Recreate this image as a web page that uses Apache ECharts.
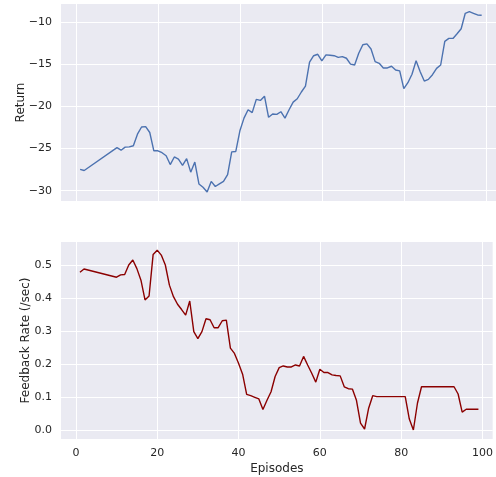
<!DOCTYPE html>
<html>
<head>
<meta charset="utf-8">
<script src="https://cdn.jsdelivr.net/npm/echarts@6/dist/echarts.min.js"></script>
<style>html,body{margin:0;padding:0;background:#fff}#c{width:496px;height:477px}</style>
</head>
<body>
<div id="c"></div>
<script>
const episodes = [1, 2,
  10, 11, 12, 13, 14, 15, 16, 17, 18, 19,
  20, 21, 22, 23, 24, 25, 26, 27, 28, 29,
  30, 31, 32, 33, 34, 35, 36, 37, 38, 39,
  40, 41, 42, 43, 44, 45, 46, 47, 48, 49,
  50, 51, 52, 53, 54, 55, 56, 57, 58, 59,
  60, 61, 62, 63, 64, 65, 66, 67, 68, 69,
  70, 71, 72, 73, 74, 75, 76, 77, 78, 79,
  80, 81, 82, 83, 84, 85, 86, 87, 88, 89,
  90, 91, 92, 93, 94, 95, 96, 97, 98, 99];

const returns = [-27.47, -27.6,
  -24.9, -25.2, -24.83, -24.8, -24.67, -23.3, -22.45, -22.4, -23.1, -25.27,
  -25.27, -25.5, -25.86, -26.9, -26.0, -26.25, -27.0, -26.2, -27.8, -26.6,
  -29.2, -29.6, -30.15, -28.9, -29.5, -29.2, -28.9, -28.1, -25.4, -25.35,
  -22.9, -21.4, -20.4, -20.75, -19.17, -19.3, -18.8, -21.3, -20.9, -20.95,
  -20.64, -21.4, -20.4, -19.5, -19.1, -18.3, -17.6, -14.75, -14.0, -13.83,
  -14.6, -13.9, -13.95, -14.0, -14.2, -14.1, -14.3, -15.0, -15.1, -13.7,
  -12.7, -12.6, -13.2, -14.7, -14.9, -15.45, -15.45, -15.25, -15.7, -15.8,
  -17.9, -17.2, -16.2, -14.6, -15.9, -17.0, -16.8, -16.25, -15.5, -15.1,
  -12.3, -11.95, -11.95, -11.4, -10.8, -8.97, -8.78, -8.97, -9.17, -9.2];

const feedbackRate = [0.478, 0.488,
  0.463, 0.470, 0.471, 0.500, 0.515, 0.489, 0.454, 0.394, 0.406, 0.532,
  0.545, 0.530, 0.500, 0.439, 0.404, 0.381, 0.365, 0.348, 0.391, 0.298,
  0.277, 0.298, 0.337, 0.334, 0.310, 0.310, 0.331, 0.333, 0.248, 0.232,
  0.202, 0.169, 0.108, 0.104, 0.099, 0.094, 0.062, 0.090, 0.116, 0.162,
  0.189, 0.194, 0.191, 0.191, 0.197, 0.194, 0.223, 0.197, 0.172, 0.145,
  0.184, 0.174, 0.174, 0.167, 0.165, 0.164, 0.131, 0.125, 0.124, 0.090,
  0.021, 0.003, 0.066, 0.104, 0.101, 0.101, 0.101, 0.101, 0.101, 0.101,
  0.101, 0.101, 0.033, 0.000, 0.081, 0.131, 0.131, 0.131, 0.131, 0.131,
  0.131, 0.131, 0.131, 0.131, 0.109, 0.054, 0.063, 0.063, 0.063, 0.063];

const xLabel = 'Episodes';
const yLabelTop = 'Return';
const yLabelBottom = 'Feedback Rate (/sec)';

const FONT = 'DejaVu Sans';
const TXT = '#262626';
const BG = '#eaeaf2';

function xAxisCfg(idx, showLabels) {
  return {
    type: 'value', gridIndex: idx, min: -3.66, max: 102.5,
    axisLine: {show: false}, axisTick: {show: false},
    axisLabel: {show: showLabels, showMinLabel: false, showMaxLabel: false,
      color: TXT, fontFamily: FONT, fontSize: 11, margin: 9},
    splitLine: {show: true, showMinLine: false, showMaxLine: false,
      lineStyle: {color: '#ffffff', width: 1}},
    name: showLabels ? xLabel : '', nameLocation: 'middle', nameGap: 24,
    nameTextStyle: {color: TXT, fontFamily: FONT, fontSize: 12}
  };
}
function yAxisCfg(idx, min, max, name, gap, fmt) {
  return {
    type: 'value', gridIndex: idx, min: min, max: max,
    axisLine: {show: false}, axisTick: {show: false},
    axisLabel: {showMinLabel: false, showMaxLabel: false, color: TXT,
      fontFamily: FONT, fontSize: 11, margin: 9, formatter: fmt},
    splitLine: {show: true, showMinLine: false, showMaxLine: false,
      lineStyle: {color: '#ffffff', width: 1}},
    name: name, nameLocation: 'middle', nameGap: gap, nameRotate: 90,
    nameMoveOverlap: false,
    nameTextStyle: {color: TXT, fontFamily: FONT, fontSize: 12}
  };
}

const chart = echarts.init(document.getElementById('c'), null, {renderer: 'canvas'});
chart.setOption({
  animation: false,
  backgroundColor: '#ffffff',
  grid: [
    {left: 61, right: 0, top: 4, height: 197, show: true, backgroundColor: BG, borderWidth: 0},
    {left: 61, right: 0, top: 242, height: 197, show: true, backgroundColor: BG, borderWidth: 0}
  ],
  xAxis: [xAxisCfg(0, false), xAxisCfg(1, true)],
  yAxis: [
    yAxisCfg(0, -31.22, -7.87, yLabelTop, 34, v => (v < 0 ? '\u2212' + Math.abs(v) : String(v))),
    yAxisCfg(1, -0.0273, 0.5697, yLabelBottom, 29, v => v.toFixed(1))
  ],
  series: [
    {type: 'line', xAxisIndex: 0, yAxisIndex: 0, showSymbol: false,
      lineStyle: {color: '#4c72b0', width: 1.4},
      data: episodes.map((e, i) => [e, returns[i]])},
    {type: 'line', xAxisIndex: 1, yAxisIndex: 1, showSymbol: false,
      lineStyle: {color: '#8b0000', width: 1.4},
      data: episodes.map((e, i) => [e, feedbackRate[i]])}
  ]
});
</script>
</body>
</html>
